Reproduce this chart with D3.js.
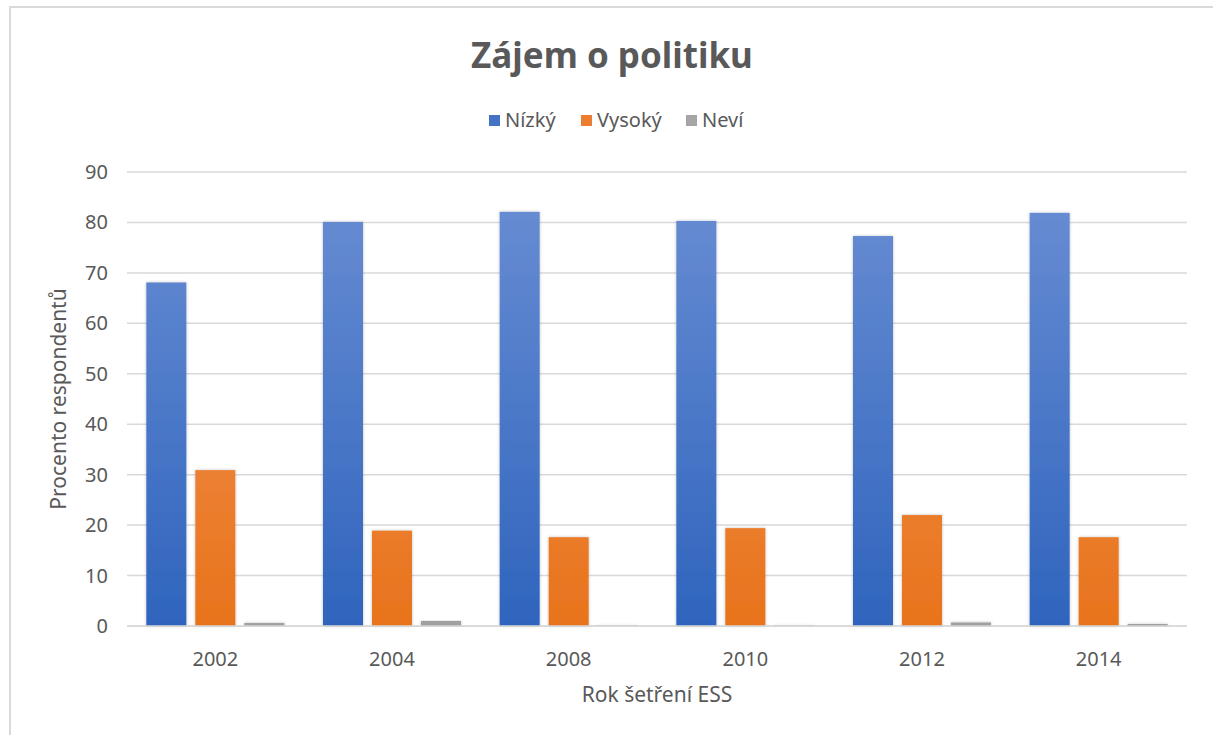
<!DOCTYPE html>
<html><head><meta charset="utf-8">
<script src="https://cdn.jsdelivr.net/npm/d3@7"></script>
<style>body{margin:0;background:#fff}svg{display:block}text{font-family:"Noto Sans","Open Sans",sans-serif}</style>
</head><body><svg id="c" width="1213" height="735"></svg>
<script>
const years = ["2002","2004","2008","2010","2012","2014"];
const series = ["Nízký","Vysoký","Neví"];
const nizky = [68.1, 80.1, 82.1, 80.3, 77.3, 81.9];
const vysoky = [30.9, 18.9, 17.6, 19.4, 22.0, 17.6];
const nevi = [0.6, 1.0, 0.1, 0.1, 0.7, 0.4];
const yTicks = [0,10,20,30,40,50,60,70,80,90];

const values = [nizky, vysoky, nevi];
const svg = d3.select("#c");
const defs = svg.append("defs");
const grads = [["gBlue","#6b8fd4","#2f64bd"],["gOrange","#f49a5e","#e8731c"],["gGray","#b5b5b5","#a0a0a0"]];
grads.forEach(([id,a,b])=>{
  const g = defs.append("linearGradient").attr("id",id)
    .attr("gradientUnits","userSpaceOnUse").attr("y1",172).attr("y2",626).attr("x1",0).attr("x2",0);
  g.append("stop").attr("offset",0).attr("stop-color",a);
  g.append("stop").attr("offset",1).attr("stop-color",b);
});
const f = defs.append("filter").attr("id","sh").attr("x","-20%").attr("y","-5%").attr("width","140%").attr("height","110%");
f.append("feDropShadow").attr("dx",0).attr("dy",0).attr("stdDeviation",1.5).attr("flood-color","#000").attr("flood-opacity",0.25);
const legendColors = ["#4472c4","#ed7d31","#a5a5a5"];
const fills = ["url(#gBlue)","url(#gOrange)","url(#gGray)"];

// border
svg.append("rect").attr("x",10).attr("y",7).attr("width",1220).attr("height",740)
  .attr("fill","none").attr("stroke","#d9d9d9").attr("stroke-width",2);

const L=127, R=1187, T=172, B=626;
const x = d3.scaleBand().domain(years).range([L,R]).paddingInner(0).paddingOuter(0);
const y = d3.scaleLinear().domain([0,90]).range([B,T]);
const barW = 40, step = 49;

// gridlines
svg.append("g").selectAll("line").data(yTicks).join("line")
  .attr("x1",L).attr("x2",R).attr("y1",d=>y(d)).attr("y2",d=>y(d))
  .attr("stroke","#d9d9d9").attr("stroke-width",1.5);

// y tick labels
svg.append("g").selectAll("text").data(yTicks).join("text")
  .attr("x",108).attr("y",d=>y(d)).attr("dy","0.35em").attr("text-anchor","end")
  .attr("font-size",20).attr("fill","#595959").text(d=>d);

// bars
series.forEach((s,si)=>{
  svg.append("g").attr("filter","url(#sh)").selectAll("rect").data(years).join("rect")
    .attr("x",(d)=>x(d)+x.bandwidth()/2 - step + si*step - barW/2)
    .attr("width",barW)
    .attr("y",(d,i)=>y(values[si][i]))
    .attr("height",(d,i)=>B - y(values[si][i]))
    .attr("fill",fills[si]);
});

// x axis line
svg.append("line").attr("x1",L).attr("x2",R).attr("y1",B).attr("y2",B).attr("stroke","#d9d9d9").attr("stroke-width",1.5);

// x tick labels
svg.append("g").selectAll("text").data(years).join("text")
  .attr("x",d=>x(d)+x.bandwidth()/2).attr("y",666).attr("text-anchor","middle")
  .attr("font-size",20).attr("fill","#595959").text(d=>d);

// axis titles
svg.append("text").attr("x",657).attr("y",702).attr("text-anchor","middle")
  .attr("font-size",21).attr("fill","#595959").text("Rok šetření ESS");
svg.append("text").attr("transform","translate(66,399) rotate(-90)").attr("text-anchor","middle")
  .attr("font-size",21).attr("fill","#595959").text("Procento respondentů");

// title
svg.append("text").attr("x",612).attr("y",68).attr("text-anchor","middle")
  .attr("font-size",35).attr("font-weight","bold").attr("fill","#595959").text("Zájem o politiku");

// legend
const legX = [489, 581, 686];
const lg = svg.append("g");
series.forEach((s,i)=>{
  lg.append("rect").attr("x",legX[i]).attr("y",115).attr("width",11).attr("height",11).attr("fill",legendColors[i]);
  lg.append("text").attr("x",legX[i]+16).attr("y",120).attr("dy","0.35em").attr("font-size",20).attr("fill","#595959").text(s);
});
</script></body></html>
